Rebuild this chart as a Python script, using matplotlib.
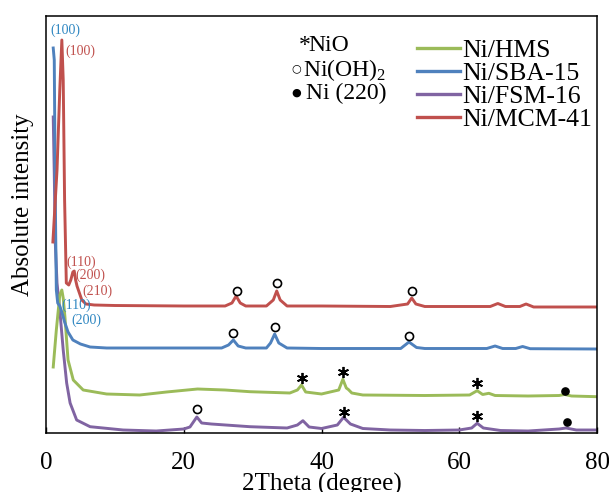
import matplotlib
matplotlib.use("Agg")
import matplotlib.pyplot as plt

plt.rcParams['font.family'] = ['Liberation Serif', 'DejaVu Sans']
plt.rcParams['mathtext.fontset'] = 'custom'
plt.rcParams['mathtext.rm'] = 'Liberation Serif'

# ---- data (2theta, intensity a.u.) ----
mcm_x = [1.0, 1.6, 2.0, 2.3, 2.5, 2.7, 2.95, 3.3, 3.6, 3.9, 4.1, 4.3, 4.5, 4.8, 5.2, 5.8, 7, 10, 20, 26,
         27.0, 27.6, 28.2, 29, 32, 33.0, 33.5, 34.0, 35, 40, 50, 52.5, 53.1, 53.7, 55, 64.5, 65.6, 66.7,
         68.8, 69.7, 70.8, 80]
mcm_y = [191, 263, 343, 393, 353, 233, 150, 148, 153, 161, 162, 153, 147, 141, 133, 129, 128, 127.5, 127, 127,
         130, 137, 130, 127, 127, 133, 142, 133, 127, 127, 126.5, 129, 135, 129, 126.5, 126.5, 129.5, 126.5,
         126.5, 129, 126, 126]

sba_x = [1.05, 1.2, 1.35, 1.5, 1.7, 2.0, 2.3, 2.7, 3.2, 3.9, 5, 6.4, 8.8, 12, 20, 25.5, 26.5, 27.2, 27.9, 29,
         32, 32.6, 33.2, 33.8, 35, 40, 51.5, 52.7, 53.8, 55, 64, 65.2, 66.3, 68.2, 69.2, 70.3, 80]
sba_y = [385, 373, 233, 143, 130, 127, 121, 111, 101, 93, 89, 86, 85, 85, 85, 85, 88, 93, 87, 85,
         85, 90, 99, 90, 85, 84.5, 84.5, 91, 85.5, 84.5, 84.5, 87, 84.5, 84.5, 86.5, 84.3, 84]

fsm_x = [1.05, 1.2, 1.35, 1.6, 2.0, 2.5, 3.0, 3.5, 4.45, 6.4, 11.2, 16, 20, 20.9, 21.9, 22.6, 24, 29.6, 35,
         36.5, 37.3, 38.2, 40, 42.3, 43.2, 44.2, 46, 50, 55, 60, 61.8, 62.6, 63.5, 66, 70, 74.5, 75.5, 77, 80]
fsm_y = [316, 260, 190, 150, 123, 83, 50, 30, 13, 6.3, 3, 2, 4, 6, 16, 10, 9, 6.3, 5,
         8, 12.3, 6, 4.5, 8, 15.7, 9, 4.5, 3, 2.5, 3, 5, 9.7, 5, 2.5, 2, 4, 5, 3, 3]

hms_x = [1.05, 1.5, 2.0, 2.3, 2.5, 2.75, 3.2, 3.96, 5.4, 8.8, 13.6, 17.5, 22, 26, 29.6, 35.4, 36.5, 37.1,
         37.7, 40, 42.5, 43.1, 43.6, 43.9, 44.4, 46, 55, 61.5, 62.6, 63.4, 64.3, 65.2, 70, 74.5, 75.3, 76.3, 80]
hms_y = [66, 103, 138, 143, 135, 116, 73, 53, 43, 39, 38, 41, 44, 43, 41.3, 40, 43, 48,
         41, 39, 43, 53.7, 45, 43.5, 40, 38, 37.5, 38, 42.3, 38.5, 39.7, 37.5, 37, 37.5, 38.5, 37, 36.3]

series_names = ['Ni/HMS', 'Ni/SBA-15', 'Ni/FSM-16', 'Ni/MCM-41']
series_colors = ['#9BBB59', '#4F81BD', '#8064A2', '#C0504D']

# phase markers
ohx = [27.7, 33.5, 53.1, 27.2, 33.2, 52.7, 21.9]          # Ni(OH)2  (open circle)
ohy = [142, 150, 142, 100.3, 106.3, 97, 24]
niox = [37.1, 43.1, 62.6, 43.2, 62.6]                      # NiO (asterisk)
nioy = [55, 61.3, 50.3, 21.3, 17]
nix = [75.3, 75.6]                                         # Ni (220) (dot)
niy = [42, 10.7]

# low-angle reflection labels
pk_text = ['(100)', '(100)', '(110)', '(200)', '(210)', '(110)', '(200)']
pk_x = [2.76, 4.93, 5.08, 6.39, 7.4, 4.35, 5.8]
pk_y = [403, 382, 171, 158, 142, 128, 113]
pk_col = ['#2E86C1', '#C0504D', '#C0504D', '#C0504D', '#C0504D', '#2E86C1', '#2E86C1']

xticks = [0, 20, 40, 60, 80]

# ---- figure ----
fig = plt.figure(figsize=(6.09, 4.92), dpi=100)
ax = fig.add_axes([46/609, 59/492, 551/609, 417/492])

data = [(hms_x, hms_y), (sba_x, sba_y), (fsm_x, fsm_y), (mcm_x, mcm_y)]
order = [2, 0, 1, 3]
for i in order:
    x, y = data[i]
    ax.plot(x, y, color=series_colors[i], lw=2.1, solid_joinstyle='round')
handles = [plt.Line2D([], [], color=series_colors[i], lw=2.4) for i in range(4)]

ax.plot(ohx, ohy, ls='none', marker='o', ms=5.8, mfc='white', mec='black', mew=1.2)
ax.plot(niox, nioy, ls='none', marker=(6, 2, 0), ms=8, mec='black', mew=1.3)
ax.plot(nix, niy, ls='none', marker='o', ms=5.2, mfc='black', mec='black')

for t, x, y, c in zip(pk_text, pk_x, pk_y, pk_col):
    ax.text(x, y, t, color=c, fontsize=10, ha='center', va='center')

ax.set_xlim(0, 80)
ax.set_ylim(0, 417)
ax.set_xticks(xticks)
ax.set_yticks([])
ax.tick_params(axis='x', direction='in', length=4, width=1, labelsize=18, pad=13.5)
for s in ax.spines.values():
    s.set_linewidth(1.1)

ax.set_xlabel('2Theta (degree)', fontsize=18, labelpad=-0.5)
ax.set_ylabel('Absolute intensity', fontsize=18)
ax.yaxis.set_label_coords(-0.022, 0.547)

ax.legend(handles, series_names, loc='upper left', bbox_to_anchor=(0.673, 0.945),
          frameon=False, fontsize=18.5, handlelength=1.67, handletextpad=0.08,
          labelspacing=0.0, borderpad=0, borderaxespad=0)

# phase key text
ax.text(0.459, 0.915, '*', transform=ax.transAxes, fontsize=17, va='baseline', ha='left')
ax.text(0.477, 0.915, 'NiO', transform=ax.transAxes, fontsize=17, va='baseline', ha='left')
ax.text(0.454, 0.874, '\u25CB', transform=ax.transAxes, fontsize=8, va='center', ha='center',
        family=['DejaVu Sans'])
ax.text(0.466, 0.857, 'Ni(OH)$_2$', transform=ax.transAxes, fontsize=17, va='baseline', ha='left')
ax.text(0.454, 0.816, '\u25CF', transform=ax.transAxes, fontsize=8, va='center', ha='center',
        family=['DejaVu Sans'])
ax.text(0.472, 0.800, 'Ni (220)', transform=ax.transAxes, fontsize=17, va='baseline', ha='left')

fig.savefig('out.png', dpi=100)
